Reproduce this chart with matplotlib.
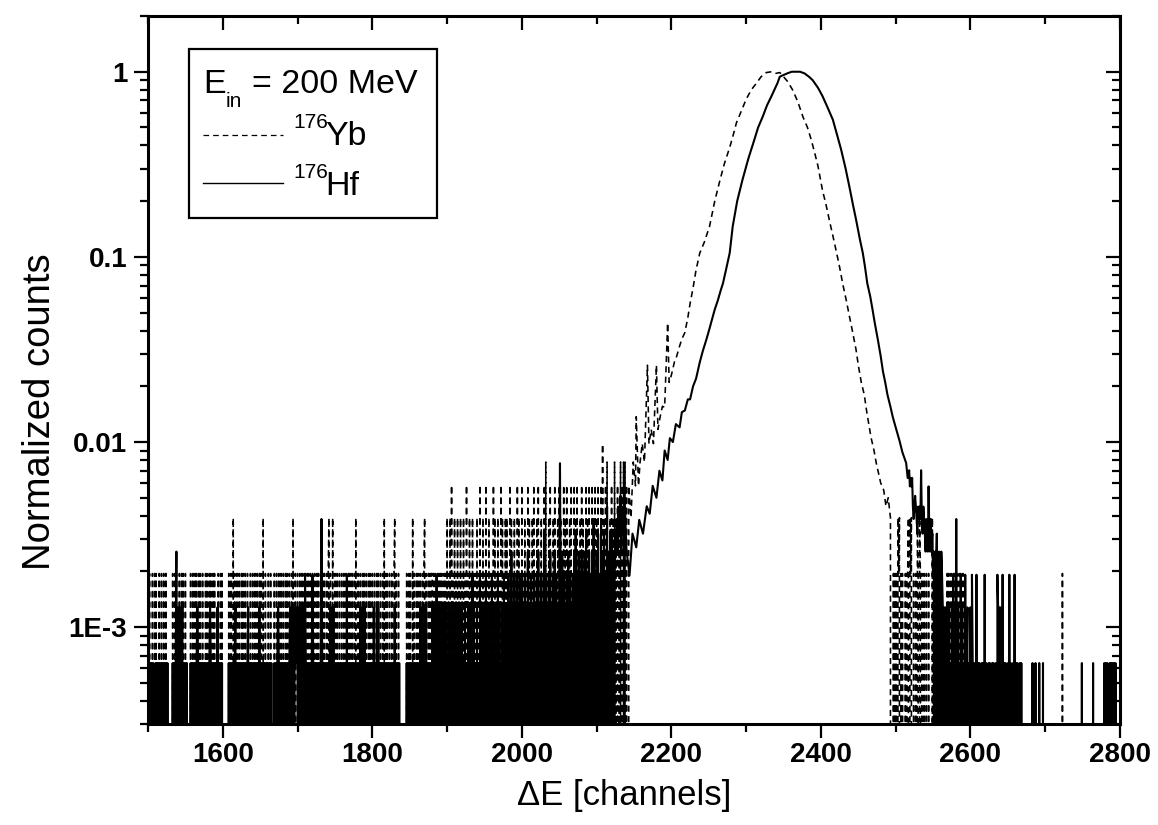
import numpy as np
import matplotlib
matplotlib.use('Agg')
import matplotlib.pyplot as plt
from matplotlib.lines import Line2D
from matplotlib.patches import Rectangle
from matplotlib.ticker import MultipleLocator, LogLocator, NullFormatter

plt.rcParams['font.family'] = ['Liberation Sans', 'DejaVu Sans']
plt.rcParams['path.simplify'] = False

# ------------------------------------------------------------------ data
# normalized value of a single count in each spectrum
YB_UNIT = 1.95e-3
HF_UNIT = 6.4e-4

# low-energy noise: counts per channel (one base-36 digit per channel)
yb_noise_left = [
    (1500, "10100010010100010010"), (1520, "01001000000001001010"),
    (1540, "00100101001000000100"), (1560, "10010100101001000101"),
    (1580, "00101001010000100101"), (1600, "00000000100100201001"),
    (1620, "00100101001001000100"), (1640, "10010010010100200100"),
    (1660, "01001000010010010010"), (1680, "01001010010010200100"),
    (1700, "10010010010100100100"), (1720, "10010010100100101001"),
    (1740, "01201002001001001001"), (1760, "00100100101001001020"),
    (1780, "01001001010010010100"), (1800, "10010010100100102010"),
    (1820, "10010010012010010000"), (1840, "00000010010100201001"),
    (1860, "01001001012010010101"), (1880, "10101001010101001010"),
    (1900, "20102030102010201020"), (1920, "10201030102010201010"),
    (1940, "20103010201030102010"), (1960, "10302010201030201020"),
    (1980, "20103020102010302010"), (2000, "30102010302010203010"),
    (2020, "20301020103040102030"), (2040, "10203010203020103020"),
    (2060, "30102030103020301020"), (2080, "30201030203010302030"),
    (2100, "20301030502030401020"), (2120, "3020402030204030404030"),
]
hf_noise_left = [
    (1500, "10110101001011010101"), (1520, "10101010000001010140"),
    (1540, "20202120101010000101"), (1560, "01010121010101101010"),
    (1580, "10121010101102010101"), (1600, "00000000101010101201"),
    (1620, "01010101010101201010"), (1640, "11010101020101010101"),
    (1660, "01010100010101210101"), (1680, "01010101012020202121"),
    (1700, "20202020203101010101"), (1720, "31010101010161010101"),
    (1740, "01012020201010101010"), (1760, "10101030101010101010"),
    (1780, "10102020202010101010"), (1800, "10201020201010101010"),
    (1820, "10101010102010101000"), (1840, "00000010101010101010"),
    (1860, "10102020202020101010"), (1880, "20202030202020202020"),
    (1900, "10201020102010201020"), (1920, "20102010202010302010"),
    (1940, "20103020102030201020"), (1960, "30201020302010203020"),
    (1980, "20302040203020302030"), (2000, "30203020402030203020"),
    (2020, "30402030205030203040"), (2040, "20304030203c20403020"),
    (2060, "30403020304050304030"), (2080, "40304050304030406030"),
    (2100, "40503060405030704050"), (2120, "50403456475684756475"),
]

# peak region: (channel, normalized counts)
yb_peak_ch = [2143, 2146, 2149, 2152, 2153, 2156, 2158, 2161, 2164, 2168,
              2170, 2173, 2176, 2180, 2182, 2185, 2188, 2191, 2195, 2197,
              2200, 2204, 2207, 2211, 2214, 2218, 2222, 2225, 2229, 2233,
              2238, 2244, 2251, 2258, 2265, 2271, 2278, 2283, 2287, 2294,
              2300, 2307, 2314, 2320, 2327, 2334, 2340, 2345, 2349, 2355,
              2362, 2369, 2376, 2382, 2387, 2392, 2396, 2402, 2407, 2412,
              2416, 2421, 2425, 2429, 2434, 2438, 2442, 2447, 2450, 2454,
              2458, 2461, 2464, 2467, 2471, 2474, 2477, 2480, 2484, 2487,
              2490, 2493]
yb_peak_val = [0.0058, 0.0039, 0.0078, 0.0058, 0.0137, 0.0058, 0.0077, 0.0098, 0.0078, 0.026,
               0.0098, 0.0117, 0.0098, 0.026, 0.0117, 0.0137, 0.0156, 0.0154, 0.044, 0.021,
               0.023, 0.027, 0.029, 0.033, 0.036, 0.039, 0.047, 0.056, 0.068, 0.085,
               0.105, 0.12, 0.146, 0.2, 0.26, 0.32, 0.39, 0.46, 0.53, 0.62,
               0.71, 0.8, 0.87, 0.94, 0.99, 1.0, 0.98, 0.99, 0.95, 0.89,
               0.8, 0.69, 0.57, 0.5, 0.43, 0.36, 0.31, 0.23, 0.19, 0.153,
               0.13, 0.105, 0.088, 0.072, 0.058, 0.048, 0.04, 0.0315, 0.026, 0.021,
               0.018, 0.0148, 0.0125, 0.0106, 0.009, 0.0077, 0.0068, 0.006, 0.0055, 0.0045,
               0.005, 0.0039]
hf_peak_ch = [2140, 2144, 2148, 2153, 2157, 2162, 2167, 2171, 2175, 2180,
              2184, 2188, 2191, 2195, 2198, 2202, 2206, 2211, 2214, 2218,
              2222, 2225, 2229, 2233, 2238, 2242, 2247, 2251, 2255, 2258,
              2262, 2266, 2269, 2273, 2278, 2282, 2288, 2295, 2303, 2311,
              2316, 2322, 2328, 2334, 2342, 2345, 2350, 2355, 2361, 2367,
              2372, 2378, 2384, 2389, 2396, 2402, 2409, 2416, 2422, 2427,
              2433, 2438, 2443, 2447, 2452, 2456, 2459, 2462, 2466, 2469,
              2472, 2476, 2480, 2483, 2486, 2489, 2493, 2496, 2500, 2505,
              2509, 2514]
hf_peak_val = [0.0026, 0.0019, 0.0032, 0.0027, 0.0038, 0.0032, 0.0045, 0.0041, 0.0058, 0.0050,
               0.0070, 0.0062, 0.0090, 0.0080, 0.0105, 0.0100, 0.0125, 0.0120, 0.0145, 0.0148,
               0.0170, 0.0170, 0.0200, 0.0220, 0.0270, 0.0310, 0.0360, 0.0410, 0.0470, 0.0520,
               0.0580, 0.0660, 0.0720, 0.0850, 0.105, 0.146, 0.2, 0.26, 0.34, 0.43,
               0.5, 0.57, 0.66, 0.74, 0.87, 0.94, 0.96, 0.98, 1.0, 1.0,
               1.0, 0.98, 0.94, 0.9, 0.82, 0.74, 0.64, 0.55, 0.45, 0.38,
               0.3, 0.24, 0.19, 0.159, 0.125, 0.105, 0.088, 0.072, 0.061, 0.052,
               0.044, 0.036, 0.029, 0.024, 0.021, 0.018, 0.0155, 0.0137, 0.012, 0.0102,
               0.0088, 0.0077]

# high-energy tail: counts per channel
yb_noise_right = [
    (2494, "000101" "0102120101" "000101" "1202120" "0100" "1021021010"
           "010010" "0100002" "0100101010" "0"),
    (2568, "0101001001010010010100100"),
    (2722, "010"),
]
hf_noise_right = [
    (2515, "baab9a9a76787657676b"),
    (2535, "6576546549546"),
    (2548, "453404350343043"),
    (2563, "2021202120"),
    (2573, "102030206020103020103012010203"),
    (2603, "10100" "3" "0101001010" "3" "0100101001010010" "3" "202020" "3"
           "01010010" "3" "010010" "3" "01010010100"),
    (2682, "010001000010000100"),
    (2748, "010"),
    (2763, "010"),
    (2778, "0101010010101010100"),
]

x_ticks = [1600, 1800, 2000, 2200, 2400, 2600, 2800]
x_tick_labels = ['1600', '1800', '2000', '2200', '2400', '2600', '2800']
y_ticks = [1e-3, 1e-2, 1e-1, 1.0]
y_tick_labels = ['1E-3', '0.01', '0.1', '1']


def expand(segments, unit):
    ch, val = [], []
    for start, digits in segments:
        for i, d in enumerate(digits):
            ch.append(start + i)
            val.append(int(d, 36) * unit)
    return ch, val


def series(left, peak_ch, peak_val, right, unit):
    c1, v1 = expand(left, unit)
    c2, v2 = expand(right, unit)
    ch = np.array(c1 + list(peak_ch) + c2, dtype=float)
    val = np.array(v1 + list(peak_val) + v2, dtype=float)
    order = np.argsort(ch, kind='stable')
    return ch[order], val[order]


yb_ch, yb_val = series(yb_noise_left, yb_peak_ch, yb_peak_val, yb_noise_right, YB_UNIT)
hf_ch, hf_val = series(hf_noise_left, hf_peak_ch, hf_peak_val, hf_noise_right, HF_UNIT)

# ------------------------------------------------------------------ figure
W, H = 1158, 825
fig = plt.figure(figsize=(W / 100, H / 100), dpi=100)
L, R, T, B = 148, 1120, 16, 724
ax = fig.add_axes([L / W, 1 - B / H, (R - L) / W, (B - T) / H])

ax.plot(yb_ch, yb_val, color='black', lw=1.15, dashes=(3.8, 2.7))
ax.plot(hf_ch, hf_val, color='black', lw=1.5)

ax.set_yscale('log')
ax.set_xlim(1500, 2800)
ax.set_ylim(3e-4, 2.0)

ax.set_xticks(x_ticks, labels=x_tick_labels)
ax.xaxis.set_minor_locator(MultipleLocator(100))
ax.set_yticks(y_ticks, labels=y_tick_labels)
ax.yaxis.set_minor_locator(LogLocator(base=10, subs=np.arange(2, 10)))
ax.yaxis.set_minor_formatter(NullFormatter())

ax.tick_params(which='both', direction='out', top=False, right=False, width=1.6)
ax.tick_params(which='major', length=10, labelsize=20)
ax.tick_params(which='minor', length=5.5)
ax.tick_params(axis='x', pad=3)
ax.tick_params(axis='y', pad=5)
for lab in ax.get_xticklabels() + ax.get_yticklabels():
    lab.set_fontweight('bold')
for s in ax.spines.values():
    s.set_linewidth(2.2)

# top / right inward ticks
ax2 = fig.add_axes(ax.get_position(), sharex=ax, sharey=ax)
ax2.patch.set_visible(False)
for s in ax2.spines.values():
    s.set_visible(False)
ax2.tick_params(which='both', direction='in', left=False, bottom=False,
                labelleft=False, labelbottom=False, top=True, right=True,
                labeltop=False, labelright=False, width=1.6)
ax2.tick_params(which='major', length=10)
ax2.tick_params(which='minor', length=5.5)

# axis labels
fig.text(40 / W, 1 - 412 / H, 'Normalized counts', rotation=90,
         ha='center', va='center', fontsize=27.5)
fig.text(624 / W, 1 - 796 / H, '\u0394E [channels]', ha='center', va='center',
         fontsize=25)


def fx(x):
    return x / W


def fy(y):
    return 1 - y / H


# legend box
box = Rectangle((fx(189), fy(218)), (437 - 189) / W, (218 - 49) / H,
                transform=fig.transFigure, facecolor='white', edgecolor='black',
                lw=1.6, zorder=5)
fig.add_artist(box)
fig.text(fx(203), fy(93), 'E', fontsize=24.5, va='baseline', zorder=6)
fig.text(fx(226), fy(107), 'in', fontsize=15, va='baseline', zorder=6)
fig.text(fx(252), fy(93), '= 200 MeV', fontsize=24.5, va='baseline', zorder=6)
fig.add_artist(Line2D([fx(203), fx(283)], [fy(135), fy(135)], transform=fig.transFigure,
                      color='black', lw=0.9, dashes=(4.5, 3.2), zorder=6))
fig.text(fx(293), fy(128), '176', fontsize=15, va='baseline', zorder=6)
fig.text(fx(325), fy(145), 'Yb', fontsize=24.5, va='baseline', zorder=6)
fig.add_artist(Line2D([fx(203), fx(283)], [fy(183), fy(183)], transform=fig.transFigure,
                      color='black', lw=1.0, zorder=6))
fig.text(fx(293), fy(178), '176', fontsize=15, va='baseline', zorder=6)
fig.text(fx(325), fy(195), 'Hf', fontsize=24.5, va='baseline', zorder=6)

fig.savefig('out.png', dpi=100)
